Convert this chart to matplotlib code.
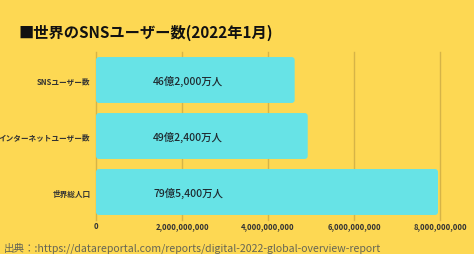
import matplotlib
matplotlib.use("Agg")
import matplotlib.pyplot as plt
from matplotlib.patches import FancyBboxPatch

plt.rcParams['font.family'] = ['Noto Sans CJK JP', 'DejaVu Sans']

categories = ["SNSユーザー数", "インターネットユーザー数", "世界総人口"]
values = [4620000000, 4924000000, 7954000000]
bar_labels = ["46億2,000万人", "49億2,400万人", "79億5,400万人"]
xticks = [0, 2000000000, 4000000000, 6000000000, 8000000000]
xtick_labels = ["0", "2,000,000,000", "4,000,000,000", "6,000,000,000", "8,000,000,000"]
title = "■世界のSNSユーザー数(2022年1月)"
source = "出典：:https://datareportal.com/reports/digital-2022-global-overview-report"

BG = "#FDD853"
BAR = "#67E3E6"
GRID = "#D6B447"

W, H = 474, 255
fig = plt.figure(figsize=(W / 100, H / 100), dpi=100, facecolor=BG)
ax = fig.add_axes([96 / W, 1 - 221 / H, 344 / W, 168 / H], facecolor=BG)

ypos = list(range(len(categories)))
bars = ax.barh(ypos, values, height=0.82, color=BAR, zorder=2)
ax.set_xlim(0, 8000000000)
ax.set_ylim(len(categories) - 0.5, -0.5)

# rounded corners
xpp = 8000000000 / 344
ypp = 3 / 168
for b in bars:
    b.set_visible(False)
    p = FancyBboxPatch((b.get_x(), b.get_y()), b.get_width(), b.get_height(),
                       boxstyle="round,pad=0,rounding_size=%g" % (3 * xpp),
                       mutation_aspect=ypp / xpp,
                       facecolor=BAR, edgecolor="none", zorder=2)
    ax.add_patch(p)

for y, lab in zip(ypos, bar_labels):
    ax.text(57 * xpp, y, lab, va="center", ha="left",
            fontsize=7.5, fontweight="medium", color="#1f2a30", zorder=3)

ax.set_xticks(xticks)
ax.set_xticklabels(xtick_labels, fontsize=5.5, fontweight="bold", color="#333333")
ax.set_yticks(ypos)
ax.set_yticklabels(categories, fontsize=5.5, fontweight="bold", color="#333333")
ax.tick_params(axis="x", length=0, pad=0.5)
ax.tick_params(axis="y", length=0, pad=4)
ax.xaxis.grid(True, color=GRID, linewidth=1.0, zorder=1)
ax.set_axisbelow(True)
for gl in ax.get_xgridlines():
    gl.set_clip_on(False)
for s in ax.spines.values():
    s.set_visible(False)

fig.text(18 / W, 1 - 33 / H, title, fontsize=11, fontweight="bold",
         color="#111111", va="center", ha="left")
fig.text(4 / W, 1 - 248 / H, source, fontsize=7.6, color="#666655",
         va="center", ha="left")

fig.savefig("out.png", dpi=100, facecolor=BG)
